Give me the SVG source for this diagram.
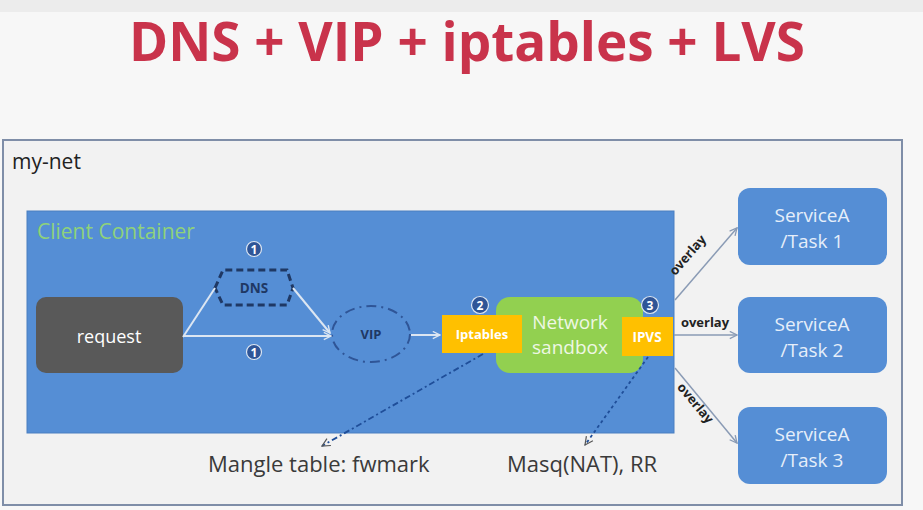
<svg xmlns="http://www.w3.org/2000/svg" width="923" height="510" viewBox="0 0 923 510">
<defs>
<marker id="aw" viewBox="0 0 10 10" refX="9" refY="5" markerWidth="9" markerHeight="9" orient="auto" markerUnits="userSpaceOnUse"><path d="M1,1 L9,5 L1,9" fill="none" stroke="#dce6f2" stroke-width="1.5"/></marker>
<marker id="ag" viewBox="0 0 10 10" refX="9" refY="5" markerWidth="9" markerHeight="9" orient="auto" markerUnits="userSpaceOnUse"><path d="M1,1 L9,5 L1,9" fill="none" stroke="#8a9bb5" stroke-width="1.5"/></marker>
<marker id="ad" viewBox="0 0 10 10" refX="9" refY="5" markerWidth="10" markerHeight="10" orient="auto" markerUnits="userSpaceOnUse"><path d="M1,1 L9,5 L1,9" fill="none" stroke="#555" stroke-width="1.2"/></marker>
</defs>
<style>
.t{font-family:"Open Sans","Liberation Sans",sans-serif}
.svc{fill:#558ed5;}
.svct{font-family:"Open Sans","Liberation Sans",sans-serif;font-size:19px;fill:#e6eefa;text-anchor:middle}
.num{fill:#2f5597;stroke:#dce6f2;stroke-width:1.2}
.numt{font-family:"Open Sans","Liberation Sans",sans-serif;font-size:12px;font-weight:bold;fill:#fff;text-anchor:middle}
.ov{font-family:"Open Sans","Liberation Sans",sans-serif;font-size:13px;font-weight:bold;fill:#222;text-anchor:middle}
.cap{font-family:"Open Sans","Liberation Sans",sans-serif;font-size:22px;fill:#3a3a3a}
</style>
<rect width="923" height="510" fill="#f7f7f7"/>
<rect width="923" height="12" fill="#ececec"/>
<text class="t" x="467" y="61" font-size="53" font-weight="bold" fill="#c9334b" text-anchor="middle">DNS + VIP + iptables + LVS</text>
<g id="my-net">
<rect x="3" y="140" width="899" height="365" fill="#f2f2f2" stroke="#7f8ea8" stroke-width="2"/>
<text class="t" x="12" y="169" font-size="21" fill="#222">my-net</text>
</g>
<g id="client-container">
<rect x="27" y="211" width="647" height="222" fill="#558ed5" stroke="#4a7fc0" stroke-width="1"/>
<text class="t" x="37" y="239" font-size="21" fill="#8fd27a">Client Container</text>
</g>
<g id="request">
<rect x="36" y="297" width="147" height="76" rx="10" fill="#595959"/>
<text class="t" x="109" y="343" font-size="18" fill="#fff" text-anchor="middle">request</text>
</g>
<g id="dns">
<polygon points="215,288 223,270 287,270 293,288 287,305 223,305" fill="none" stroke="#1f3864" stroke-width="3" stroke-dasharray="7,4"/>
<text class="t" x="254" y="293" font-size="13.5" font-weight="bold" fill="#1f3864" text-anchor="middle">DNS</text>
</g>
<g id="vip">
<ellipse cx="371" cy="334" rx="39" ry="28" fill="none" stroke="#2f5597" stroke-width="2" stroke-dasharray="10,5,2,5"/>
<text class="t" x="371" y="339" font-size="13" font-weight="bold" fill="#1f3864" text-anchor="middle">VIP</text>
</g>
<g id="network-sandbox">
<rect x="496" y="297" width="147" height="76" rx="14" fill="#92d050"/>
<text class="t" x="570" y="329" font-size="19" fill="#eef7e4" text-anchor="middle">Network</text>
<text class="t" x="570" y="354" font-size="19" fill="#eef7e4" text-anchor="middle">sandbox</text>
</g>
<g id="iptables">
<rect x="442" y="315" width="80" height="38" fill="#ffc000"/>
<text class="t" x="482" y="339" font-size="13" font-weight="bold" fill="#fff" text-anchor="middle">Iptables</text>
</g>
<g id="ipvs">
<rect x="622" y="317" width="51" height="39" fill="#ffc000"/>
<text class="t" x="647" y="341.5" font-size="13.5" font-weight="bold" fill="#fff" text-anchor="middle">IPVS</text>
</g>
<g id="steps">
<circle class="num" cx="254" cy="249" r="7.5"/><text class="numt" x="254" y="253.5">1</text>
<circle class="num" cx="254" cy="352" r="7.5"/><text class="numt" x="254" y="356.5">1</text>
<circle class="num" cx="480" cy="305" r="8.5"/><text class="numt" x="480" y="310" font-size="14">2</text>
<circle class="num" cx="650" cy="305" r="8.5"/><text class="numt" x="650" y="310" font-size="14">3</text>
</g>
<g id="task1"><rect class="svc" x="738" y="188" width="149" height="77" rx="12"/><text class="svct" x="812" y="222">ServiceA</text><text class="svct" x="812" y="248">/Task 1</text></g>
<g id="task2"><rect class="svc" x="738" y="297" width="149" height="76" rx="12"/><text class="svct" x="812" y="331">ServiceA</text><text class="svct" x="812" y="357">/Task 2</text></g>
<g id="task3"><rect class="svc" x="738" y="407" width="149" height="77" rx="12"/><text class="svct" x="812" y="441">ServiceA</text><text class="svct" x="812" y="467">/Task 3</text></g>
<g id="connectors">
<line x1="183" y1="337" x2="215" y2="288" stroke="#dce6f2" stroke-width="2"/>
<line x1="293" y1="288" x2="330" y2="333" stroke="#dce6f2" stroke-width="2" marker-end="url(#aw)"/>
<line x1="183" y1="336" x2="331" y2="336" stroke="#dce6f2" stroke-width="2" marker-end="url(#aw)"/>
<line x1="411" y1="335" x2="440" y2="335" stroke="#dce6f2" stroke-width="2" marker-end="url(#aw)"/>
<line x1="675" y1="300" x2="737" y2="228" stroke="#8a9bb5" stroke-width="1.5" marker-end="url(#ag)"/>
<line x1="674" y1="335" x2="737" y2="335" stroke="#8a9bb5" stroke-width="1.5" marker-end="url(#ag)"/>
<line x1="675" y1="368" x2="737" y2="443" stroke="#8a9bb5" stroke-width="1.5" marker-end="url(#ag)"/>
<text class="ov" transform="translate(691,258) rotate(-49)">overlay</text>
<text class="ov" x="705" y="327">overlay</text>
<text class="ov" transform="translate(692,406) rotate(50)">overlay</text>
<line x1="483" y1="354" x2="322" y2="446" stroke="#1f4e99" stroke-width="1.8" stroke-dasharray="6,3,2,3" marker-end="url(#ad)"/>
<line x1="648" y1="357" x2="585" y2="445" stroke="#1f4e99" stroke-width="1.8" stroke-dasharray="3,3" marker-end="url(#ad)"/>
</g>
<text class="cap" x="208" y="472">Mangle table: fwmark</text>
<text class="cap" x="507" y="472">Masq(NAT), RR</text>
</svg>
